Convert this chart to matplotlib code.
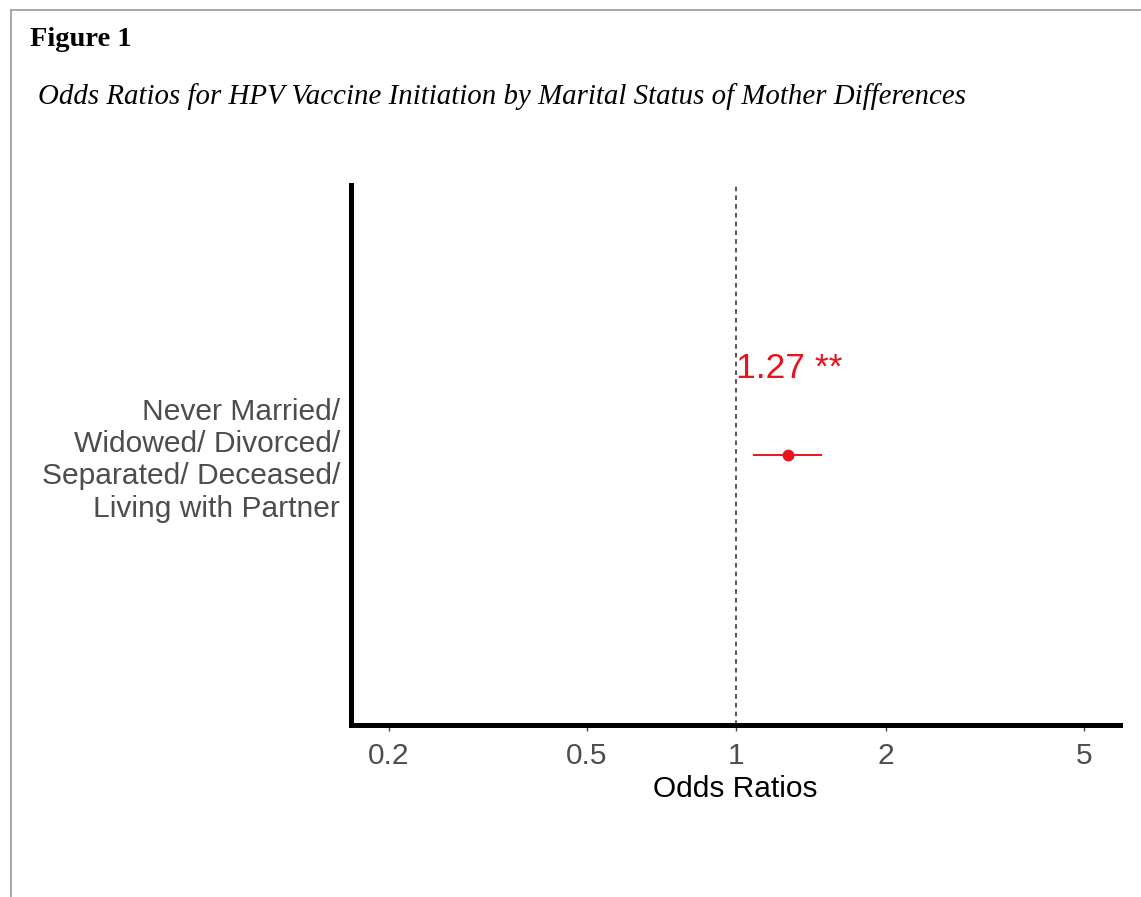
import matplotlib
matplotlib.use("Agg")
import matplotlib.pyplot as plt
from matplotlib.lines import Line2D

# Data
categories = ["Never Married/\nWidowed/ Divorced/\nSeparated/ Deceased/\nLiving with Partner"]
odds_ratios = [1.27]
ci_low = [1.08]
ci_high = [1.49]
value_labels = ["1.27 **"]
xticks = [0.2, 0.5, 1, 2, 5]
xtick_labels = ["0.2", "0.5", "1", "2", "5"]

W, H = 1141, 897
fig = plt.figure(figsize=(W / 100, H / 100), dpi=100)
fig.patch.set_facecolor("white")

# page border (top and left)
fig.add_artist(Line2D([11 / W, 1.0], [1 - 10.5 / H, 1 - 10.5 / H], color="#9a9a9a", lw=1.2, transform=fig.transFigure))
fig.add_artist(Line2D([11 / W, 11 / W], [0, 1 - 10.5 / H], color="#9a9a9a", lw=1.2, transform=fig.transFigure))

fig.text(30 / W, 1 - 40 / H, "Figure 1", family="Liberation Serif", weight="bold", fontsize=20.5, va="center", ha="left", color="black")
fig.text(38 / W, 1 - 97 / H, "Odds Ratios for HPV Vaccine Initiation by Marital Status of Mother Differences",
         family="Liberation Serif", style="italic", fontsize=20.8, va="center", ha="left", color="black")

ax = fig.add_axes([351 / W, 1 - 725 / H, (1120 - 351) / W, (725 - 185) / H])
ax.set_xscale("log")
ax.set_xlim(0.168, 5.91)
ypos = list(range(len(categories)))
ax.set_ylim(-0.5, 0.5)

ax.axvline(1, color="#5a5a5a", lw=1.5, ls=(0, (2.2, 2.0)), zorder=1)

red = "#e8141c"
for i, (o, lo, hi, lab) in enumerate(zip(odds_ratios, ci_low, ci_high, value_labels)):
    ax.plot([lo, hi], [ypos[i], ypos[i]], color=red, lw=1.4, solid_capstyle="butt", zorder=3)
    ax.plot([o], [ypos[i]], "o", color=red, markersize=7.5, zorder=4)
    ax.text(1.0, ypos[i] + 0.161, lab, color=red, fontsize=25.5, family="Liberation Sans",
            ha="left", va="center")

ax.set_yticks(ypos)
ax.set_yticklabels(categories, family="Liberation Sans", fontsize=21.6, color="#4d4d4d", linespacing=1.2)
ax.set_xticks(xticks)
ax.set_xticklabels(xtick_labels, family="Liberation Sans", fontsize=21.5, color="#4d4d4d")
ax.minorticks_off()
ax.tick_params(axis="x", length=4, width=1, color="#444444", pad=8)
ax.tick_params(axis="y", length=0, pad=8)
ax.set_xlabel("Odds Ratios", family="Liberation Sans", fontsize=21.5, color="black", labelpad=4)

for s in ["top", "right"]:
    ax.spines[s].set_visible(False)
for s in ["left", "bottom"]:
    ax.spines[s].set_linewidth(3.6)
    ax.spines[s].set_color("black")
    ax.spines[s].set_capstyle("projecting")

fig.savefig("out.png", dpi=100, facecolor="white")
